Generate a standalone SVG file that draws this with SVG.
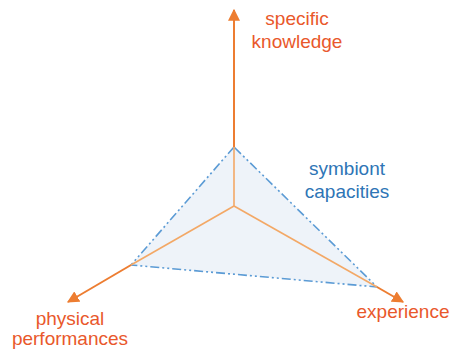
<svg xmlns="http://www.w3.org/2000/svg" width="452" height="350" viewBox="0 0 452 350">
<style>
.axis{stroke:#ed7d31;stroke-width:2;fill:none}
.inner{stroke:#f3a866;stroke-width:1.6;fill:none}
.lbl{font-family:"Liberation Sans",Arial,sans-serif;font-size:19px;fill:#e9582b;text-anchor:middle}
.blue{fill:#2e75b6}
.tri{fill:#eef3f9;stroke:#5b9bd5;stroke-width:1.6;stroke-dasharray:9 3 2 3 2 3}
</style>
<defs>
<marker id="ah" viewBox="0 0 10 10" refX="9" refY="5" markerWidth="6" markerHeight="6" orient="auto" markerUnits="strokeWidth">
<path d="M0,0 L10,5 L0,10 z" fill="#ed7d31"/>
</marker>
</defs>
<g id="area">
<polygon class="tri" points="234,147 131,265 377,287"/>
</g>
<g id="connectors">
<line class="axis" x1="234" y1="147" x2="234" y2="10" marker-end="url(#ah)"/>
<line class="axis" x1="131" y1="265" x2="68" y2="302" marker-end="url(#ah)"/>
<line class="axis" x1="377" y1="287" x2="403" y2="302" marker-end="url(#ah)"/>
<line class="inner" x1="234" y1="206" x2="234" y2="147"/>
<line class="inner" x1="234" y1="206" x2="131" y2="265"/>
<line class="inner" x1="234" y1="206" x2="377" y2="287"/>
</g>
<g id="knowledge">
<text class="lbl" x="297" y="25">specific</text>
<text class="lbl" x="297" y="48">knowledge</text>
</g>
<g id="symbiont">
<text class="lbl blue" x="347" y="175">symbiont</text>
<text class="lbl blue" x="347" y="198">capacities</text>
</g>
<g id="physical">
<text class="lbl" x="70" y="325">physical</text>
<text class="lbl" x="70" y="345">performances</text>
</g>
<g id="experience">
<text class="lbl" x="403" y="318">experience</text>
</g>
</svg>
